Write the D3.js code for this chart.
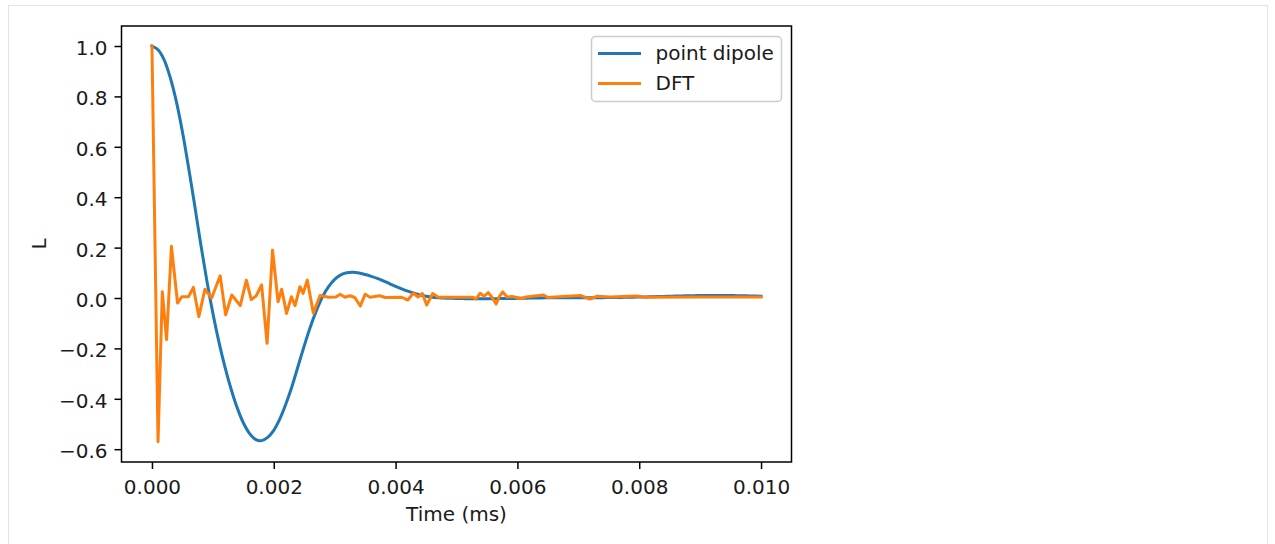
<!DOCTYPE html>
<html>
<head>
<meta charset="utf-8">
<script src="https://cdn.jsdelivr.net/npm/d3@7"></script>
<style>
  html, body { margin: 0; padding: 0; background: #fff; }
  svg text { font-family: "DejaVu Sans", sans-serif; fill: #1a1a1a; }
</style>
</head>
<body>
<svg id="chart" width="1275" height="544"></svg>
<script>
// ---- data ----
const seriesNames = ["point dipole", "DFT"];
const seriesColors = ["#1f77b4", "#ff7f0e"];

const dipoleTime = [0.0000,0.0001,0.0002,0.0003,0.0004,0.0005,0.0006,0.0007,0.0008,0.0009,
  0.0010,0.0011,0.0012,0.0013,0.0014,0.0015,0.0016,0.0017,0.0018,0.0019,
  0.0020,0.0021,0.0022,0.0023,0.0024,0.0025,0.0026,0.0027,0.0028,0.0029,
  0.0030,0.0031,0.0032,0.0033,0.0034,0.0035,0.0036,0.0037,0.0038,0.0039,
  0.0040,0.0041,0.0042,0.0043,0.0044,0.0045,0.0046,0.0047,0.0048,0.0049,
  0.0050,0.0051,0.0052,0.0053,0.0054,0.0055,0.0056,0.0057,0.0058,0.0059,
  0.0060,0.0061,0.0062,0.0063,0.0064,0.0065,0.0066,0.0067,0.0068,0.0069,
  0.0070,0.0071,0.0072,0.0073,0.0074,0.0075,0.0076,0.0077,0.0078,0.0079,
  0.0080,0.0081,0.0082,0.0083,0.0084,0.0085,0.0086,0.0087,0.0088,0.0089,
  0.0090,0.0091,0.0092,0.0093,0.0094,0.0095,0.0096,0.0097,0.0098,0.0099,0.0100];
const dipoleL = [1.000,0.985,0.945,0.875,0.780,0.660,0.520,0.370,0.215,0.070,
  -0.060,-0.175,-0.275,-0.362,-0.436,-0.495,-0.537,-0.561,-0.566,-0.553,
  -0.525,-0.480,-0.420,-0.350,-0.270,-0.190,-0.115,-0.050,0.005,0.045,
  0.074,0.092,0.100,0.102,0.099,0.093,0.086,0.078,0.068,0.057,
  0.046,0.036,0.027,0.019,0.012,0.007,0.003,0.001,0.000,-0.001,
  -0.002,-0.002,-0.003,-0.003,-0.003,-0.003,-0.003,-0.002,-0.002,-0.002,
  -0.001,-0.001,0.000,0.000,0.000,0.001,0.001,0.001,0.001,0.001,
  0.001,0.001,0.001,0.001,0.001,0.002,0.002,0.002,0.003,0.003,
  0.004,0.004,0.005,0.006,0.006,0.007,0.008,0.008,0.009,0.009,
  0.010,0.010,0.010,0.010,0.010,0.010,0.009,0.009,0.008,0.008,0.007];

const dftTime = [0.00000,0.00010,0.00017,0.00024,0.00032,0.00042,0.00049,0.00060,0.00068,0.00077,
  0.00087,0.00098,0.00112,0.00121,0.00131,0.00145,0.00155,0.00163,0.00171,0.00180,
  0.00189,0.00198,0.00207,0.00213,0.00221,0.00229,0.00235,0.00243,0.00248,0.00255,
  0.00265,0.00276,0.00290,0.00302,0.00309,0.00317,0.00325,0.00333,0.00342,0.00350,
  0.00358,0.00374,0.00383,0.00410,0.00420,0.00429,0.00437,0.00444,0.00451,0.00461,
  0.00470,0.00527,0.00532,0.00539,0.00545,0.00552,0.00558,0.00565,0.00570,0.00576,
  0.00583,0.00591,0.00607,0.00614,0.00643,0.00650,0.00662,0.00703,0.00719,0.00731,
  0.00752,0.00796,0.00810,0.00900,0.01000];
const dftL = [1.000,-0.570,0.025,-0.165,0.205,-0.020,0.005,0.005,0.042,-0.074,
  0.035,0.000,0.088,-0.067,0.012,-0.030,0.071,-0.006,0.008,0.052,
  -0.180,0.190,-0.015,0.035,-0.061,0.005,-0.030,0.045,0.018,0.071,
  -0.060,0.010,0.003,0.004,0.015,0.003,0.009,0.002,-0.032,0.015,
  0.003,0.009,0.002,0.003,-0.008,0.019,0.004,0.018,-0.028,0.018,
  0.003,0.003,-0.004,0.019,0.006,0.021,0.004,-0.024,0.004,0.024,
  0.004,0.006,-0.002,0.004,0.012,0.002,0.004,0.010,-0.004,0.007,
  0.004,0.008,0.003,0.004,0.004];

const xTickValues = [0, 0.002, 0.004, 0.006, 0.008, 0.010];
const xTickLabels = ["0.000", "0.002", "0.004", "0.006", "0.008", "0.010"];
const yTickValues = [-0.6, -0.4, -0.2, 0.0, 0.2, 0.4, 0.6, 0.8, 1.0];
const yTickLabels = ["\u22120.6", "\u22120.4", "\u22120.2", "0.0", "0.2", "0.4", "0.6", "0.8", "1.0"];
const xLabel = "Time (ms)";
const yLabel = "L";

// ---- layout ----
const svg = d3.select("#chart");
const plot = { left: 121.5, right: 791.5, top: 26, bottom: 462 };
const fontSize = 20;

svg.append("rect").attr("x", 8.5).attr("y", 5.5).attr("width", 1259).attr("height", 600)
  .attr("fill", "#fff").attr("stroke", "#e3e3e3").attr("stroke-width", 1);

const x = d3.scaleLinear().domain([-0.0005, 0.0105]).range([plot.left, plot.right]);
const y = d3.scaleLinear().domain([-0.6508, 1.0794]).range([plot.bottom, plot.top]);

const clipId = "plotclip";
svg.append("clipPath").attr("id", clipId).append("rect")
  .attr("x", plot.left).attr("y", plot.top)
  .attr("width", plot.right - plot.left).attr("height", plot.bottom - plot.top);

const dipoleData = dipoleTime.map((t, i) => [t, dipoleL[i]]);
const dftData = dftTime.map((t, i) => [t, dftL[i]]);

const smoothLine = d3.line().x(d => x(d[0])).y(d => y(d[1])).curve(d3.curveCatmullRom.alpha(0.5));
const straightLine = d3.line().x(d => x(d[0])).y(d => y(d[1]));

const g = svg.append("g").attr("clip-path", `url(#${clipId})`);
g.append("path").datum(dipoleData)
  .attr("d", smoothLine)
  .attr("fill", "none").attr("stroke", seriesColors[0]).attr("stroke-width", 3)
  .attr("stroke-linejoin", "round").attr("stroke-linecap", "square");
g.append("path").datum(dftData)
  .attr("d", straightLine)
  .attr("fill", "none").attr("stroke", seriesColors[1]).attr("stroke-width", 3)
  .attr("stroke-linejoin", "round").attr("stroke-linecap", "square");

// axes
const xAxis = d3.axisBottom(x).tickValues(xTickValues)
  .tickFormat((d, i) => xTickLabels[i]).tickSize(7).tickPadding(11);
const yAxis = d3.axisLeft(y).tickValues(yTickValues)
  .tickFormat((d, i) => yTickLabels[i]).tickSize(7).tickPadding(7);

const gx = svg.append("g").attr("transform", `translate(0,${plot.bottom})`).call(xAxis);
const gy = svg.append("g").attr("transform", `translate(${plot.left},0)`).call(yAxis);
[gx, gy].forEach(a => {
  a.select(".domain").remove();
  a.selectAll(".tick line").attr("stroke", "#000").attr("stroke-width", 1.5);
  a.selectAll(".tick text").attr("font-size", fontSize).attr("font-family", "DejaVu Sans").attr("fill", "#1a1a1a");
});
gy.selectAll(".tick text").attr("dy", "0.42em");

// frame
svg.append("rect").attr("x", plot.left).attr("y", plot.top)
  .attr("width", plot.right - plot.left).attr("height", plot.bottom - plot.top)
  .attr("fill", "none").attr("stroke", "#000").attr("stroke-width", 1.5);

// axis labels
svg.append("text").attr("x", (plot.left + plot.right) / 2).attr("y", 521)
  .attr("text-anchor", "middle").attr("font-size", fontSize).text(xLabel);
svg.append("text").attr("transform", `translate(46,${(plot.top + plot.bottom) / 2}) rotate(-90)`)
  .attr("text-anchor", "middle").attr("font-size", fontSize).text(yLabel);

// legend
const lg = svg.append("g");
lg.append("rect").attr("x", 591.5).attr("y", 36.5).attr("width", 190).attr("height", 65)
  .attr("rx", 4).attr("fill", "#fff").attr("fill-opacity", 0.8)
  .attr("stroke", "#cccccc").attr("stroke-width", 1.5);
seriesNames.forEach((name, i) => {
  const cy = 53.5 + i * 30;
  lg.append("line").attr("x1", 599.5).attr("x2", 639.5).attr("y1", cy).attr("y2", cy)
    .attr("stroke", seriesColors[i]).attr("stroke-width", 3).attr("stroke-linecap", "square");
  lg.append("text").attr("x", 655.5).attr("y", cy).attr("dy", "0.33em")
    .attr("font-size", fontSize).text(name);
});
</script>
</body>
</html>
